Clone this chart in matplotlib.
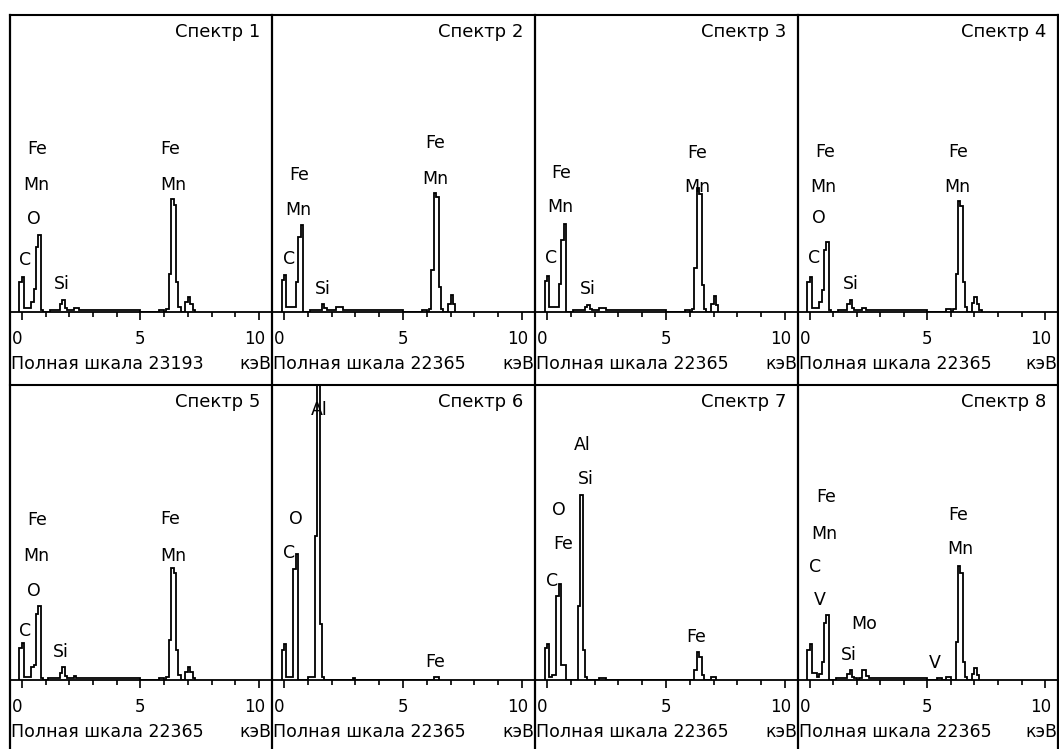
import matplotlib
matplotlib.use("Agg")
import matplotlib.pyplot as plt
import matplotlib.transforms as mtransforms
from matplotlib.lines import Line2D

plt.rcParams['font.family'] = ['DejaVu Sans']

# spectrum titles and full scale (counts) of every panel
titles = ['Спектр 1', 'Спектр 2', 'Спектр 3', 'Спектр 4',
          'Спектр 5', 'Спектр 6', 'Спектр 7', 'Спектр 8']
full_scale = [23193, 22365, 22365, 22365, 22365, 22365, 22365, 22365]

# spectra as stairs: bin edges (keV) and counts per bin
s1_edges = [-0.1, 0.0, 0.1, 0.4, 0.5, 0.6, 0.7, 0.8, 0.9, 1.2, 1.6, 1.7, 1.8, 1.9, 2.2, 2.4,
            5.0, 5.8, 6.0, 6.1, 6.2, 6.3, 6.4, 6.5, 6.6, 6.7, 6.9, 7.0, 7.1, 7.2, 7.3]
s1_counts = [2340, 2730, 310, 780, 1790, 5070, 6010, 160, 0, 160, 620, 940, 310, 160, 310,
             160, 0, 160, 0, 230, 2960, 8810, 8350, 2340, 390, 0, 780, 1170, 620, 160]

s2_edges = [-0.1, 0.0, 0.1, 0.5, 0.6, 0.7, 0.8, 1.1, 1.6, 1.7, 1.8, 2.2, 2.5, 5.0, 5.8, 6.0,
            6.1, 6.2, 6.3, 6.4, 6.5, 6.6, 6.7, 6.9, 7.0, 7.1, 7.2]
s2_counts = [2400, 2780, 375, 2250, 5630, 6530, 0, 150, 600, 300, 150, 375, 150, 0, 150, 0,
             225, 3150, 8930, 8630, 1880, 225, 0, 600, 1280, 600]

s3_edges = [-0.1, 0.0, 0.1, 0.5, 0.6, 0.7, 0.8, 1.1, 1.6, 1.7, 1.8, 1.9, 2.2, 2.5, 5.0, 5.8,
            6.0, 6.1, 6.2, 6.3, 6.4, 6.5, 6.6, 6.7, 6.9, 7.0, 7.1, 7.2]
s3_counts = [2330, 2700, 340, 2100, 5400, 6600, 0, 150, 380, 530, 230, 150, 300, 150, 0, 150,
             0, 225, 3300, 9300, 8900, 2000, 260, 0, 600, 1200, 530]

s4_edges = [-0.1, 0.0, 0.1, 0.4, 0.5, 0.6, 0.7, 0.8, 0.9, 1.2, 1.6, 1.7, 1.8, 1.9, 2.2, 2.4,
            5.0, 5.8, 6.0, 6.1, 6.2, 6.3, 6.4, 6.5, 6.6, 6.7, 6.9, 7.0, 7.1, 7.2, 7.3]
s4_counts = [2250, 2630, 300, 750, 1650, 4650, 5250, 150, 0, 150, 600, 900, 300, 150, 300,
             150, 0, 225, 0, 230, 2850, 8330, 7950, 2250, 380, 0, 700, 1130, 600, 150]

s5_edges = [-0.1, 0.0, 0.1, 0.4, 0.5, 0.6, 0.7, 0.8, 0.9, 1.1, 1.6, 1.7, 1.8, 1.9, 2.2, 2.3,
            5.0, 5.8, 6.0, 6.1, 6.2, 6.3, 6.4, 6.5, 6.6, 6.7, 6.9, 7.0, 7.1, 7.2, 7.3]
s5_counts = [2400, 2780, 225, 980, 1130, 5030, 5630, 150, 0, 150, 530, 980, 300, 150, 300,
             150, 0, 150, 0, 225, 3000, 8480, 8100, 2250, 380, 0, 600, 980, 600, 150]

s6_edges = [-0.1, 0.0, 0.1, 0.4, 0.5, 0.6, 1.0, 1.3, 1.4, 1.5, 1.6, 1.7, 2.9, 3.0, 6.3, 6.5]
s6_counts = [2250, 2700, 225, 8400, 9530, 0, 225, 10880, 25500, 4280, 225, 0, 150, 0, 225]

s7_edges = [-0.1, 0.0, 0.1, 0.2, 0.3, 0.4, 0.5, 0.6, 0.8, 1.3, 1.4, 1.5, 1.6, 1.7, 2.2, 2.5,
            6.2, 6.3, 6.4, 6.5, 6.6, 6.9, 7.1]
s7_counts = [2400, 2700, 225, 375, 375, 6380, 7280, 1130, 0, 5630, 14030, 2250, 225, 0, 150,
             0, 750, 2100, 1730, 375, 0, 225]

s8_edges = [-0.1, 0.0, 0.1, 0.3, 0.4, 0.5, 0.6, 0.7, 0.8, 1.1, 1.6, 1.7, 1.8, 1.9, 2.0, 2.1,
            2.2, 2.3, 2.4, 2.5, 5.0, 5.4, 5.6, 5.8, 6.0, 6.2, 6.3, 6.4, 6.5, 6.6, 6.7, 6.9,
            7.0, 7.1, 7.2]
s8_counts = [2250, 2700, 530, 225, 450, 1350, 4350, 4950, 0, 150, 450, 750, 225, 150, 0, 150,
             750, 750, 300, 150, 0, 150, 0, 225, 0, 2850, 8630, 8100, 1350, 225, 0, 450, 900,
             375]

# element labels: (text, energy keV, height in counts)
s1_labels = [('Fe', 0.63, 12710), ('Mn', 0.60, 9900), ('O', 0.49, 7250), ('C', 0.14, 4060),
             ('Si', 1.69, 2180), ('Fe', 6.27, 12710), ('Mn', 6.38, 9900)]
s2_labels = [('Fe', 0.63, 10350), ('Mn', 0.60, 7650), ('C', 0.21, 3980), ('Si', 1.62, 1730),
             ('Fe', 6.34, 12750), ('Mn', 6.38, 9980)]
s3_labels = [('Fe', 0.62, 10500), ('Mn', 0.55, 7880), ('C', 0.17, 4050), ('Si', 1.73, 1730),
             ('Fe', 6.33, 12000), ('Mn', 6.33, 9380)]
s4_labels = [('Fe', 0.66, 12080), ('Mn', 0.59, 9380), ('O', 0.40, 7050), ('C', 0.17, 4050),
             ('Si', 1.73, 2100), ('Fe', 6.29, 12080), ('Mn', 6.29, 9380)]
s5_labels = [('Fe', 0.63, 12150), ('Mn', 0.60, 9380), ('O', 0.49, 6750), ('C', 0.14, 3750),
             ('Si', 1.65, 2100), ('Fe', 6.27, 12230), ('Mn', 6.37, 9380)]
s6_labels = [('Al', 1.48, 20480), ('O', 0.49, 12230), ('C', 0.21, 9600), ('Fe', 6.34, 1350)]
s7_labels = [('Al', 1.49, 17850), ('Si', 1.63, 15230), ('O', 0.51, 12900), ('Fe', 0.68, 10280),
             ('C', 0.23, 7500), ('Fe', 6.28, 3230)]
s8_labels = [('Fe', 0.68, 13880), ('Mn', 0.61, 11100), ('C', 0.23, 8550), ('V', 0.42, 6080),
             ('Mo', 2.30, 4280), ('Si', 1.66, 1880), ('V', 5.32, 1280), ('Fe', 6.31, 12530),
             ('Mn', 6.38, 9900)]

spectra = [(s1_edges, s1_counts), (s2_edges, s2_counts), (s3_edges, s3_counts),
           (s4_edges, s4_counts), (s5_edges, s5_counts), (s6_edges, s6_counts),
           (s7_edges, s7_counts), (s8_edges, s8_counts)]
labels = [s1_labels, s2_labels, s3_labels, s4_labels,
          s5_labels, s6_labels, s7_labels, s8_labels]

# layout in pixels
W, H = 1059, 749
col_left = [10, 272, 535, 798]
col_right = [272, 535, 798, 1058]
row_top = [15, 385]
row_base = [312, 680]


def fx(px):
    return px / W


def fy(py):
    return 1 - py / H


fig = plt.figure(figsize=(W / 100, H / 100), dpi=100)
fig.patch.set_facecolor('white')

for i in range(8):
    r, c = divmod(i, 4)
    ax = fig.add_axes([fx(col_left[c]), fy(row_base[r]),
                       (col_right[c] - col_left[c]) / W,
                       (row_base[r] - row_top[r]) / H])
    edges, counts = spectra[i]
    ax.stairs(counts, edges, color='k', lw=1.3, baseline=0)
    ax.set_xlim(-0.5, 10.55)
    ax.set_ylim(0, full_scale[i])
    for s in ['top', 'left', 'right']:
        ax.spines[s].set_visible(False)
    ax.spines['bottom'].set_linewidth(1.3)
    ax.patch.set_visible(False)
    ax.set_yticks([])
    ax.set_xticks([0, 5, 10])
    ax.set_xticklabels(['0', '5', '10'])
    ax.set_xticks([1, 2, 3, 4, 6, 7, 8, 9], minor=True)
    ax.tick_params(axis='x', which='major', direction='out', length=6, width=1.2,
                   labelsize=12, pad=7)
    ax.tick_params(axis='x', which='minor', direction='out', length=3.5, width=1.2)
    # "0" and "10" sit a little to the left of their ticks
    tl = ax.get_xticklabels()
    tl[0].set_transform(tl[0].get_transform() +
                        mtransforms.ScaledTranslation(-5 / 100, 0, fig.dpi_scale_trans))
    tl[2].set_transform(tl[2].get_transform() +
                        mtransforms.ScaledTranslation(-4 / 100, 0, fig.dpi_scale_trans))

    for txt, e, h in labels[i]:
        ax.text(e, h, txt, ha='center', va='center', fontsize=12.5)

    fig.text(fx(col_right[c] - 12), fy(row_top[r] + 17), titles[i],
             ha='right', va='center', fontsize=13)
    fig.text(fx(col_left[c] + 1), fy(row_base[r] + 52), f'Полная шкала {full_scale[i]}',
             ha='left', va='center', fontsize=12.5)
    fig.text(fx(col_right[c] - 1), fy(row_base[r] + 52), 'кэВ',
             ha='right', va='center', fontsize=12.5)

# panel borders
fig.add_artist(Line2D([fx(10), fx(1058)], [fy(15), fy(15)], color='k', lw=1.5))
fig.add_artist(Line2D([fx(10), fx(1058)], [fy(385), fy(385)], color='k', lw=1.5))
for x in col_left + [1058]:
    fig.add_artist(Line2D([fx(x), fx(x)], [fy(15), fy(749)], color='k', lw=1.6))

fig.savefig('out.png', dpi=100)
